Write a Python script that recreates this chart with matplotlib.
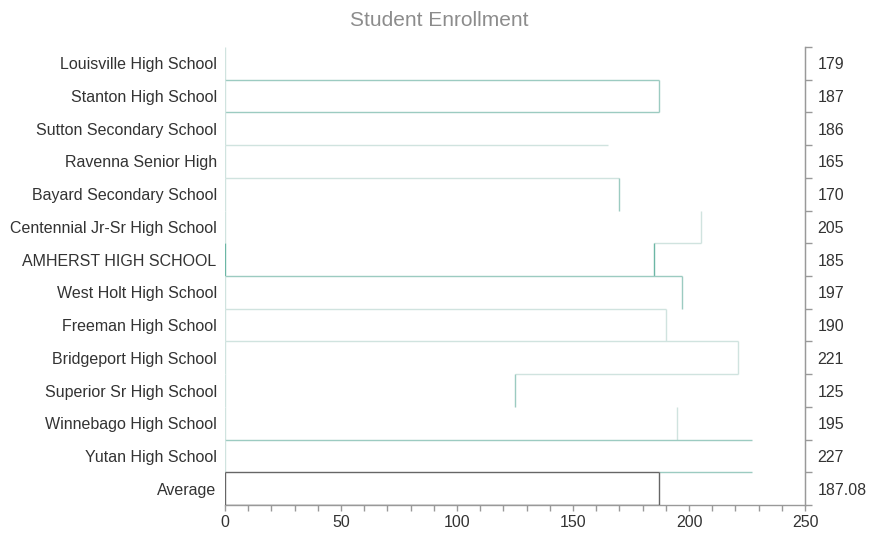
import numpy as np
import matplotlib.pyplot as plt

plt.rcParams["font.family"] = ["Liberation Sans", "DejaVu Sans"]

# Chart data (top row first)
schools = [
    "Louisville High School",
    "Stanton High School",
    "Sutton Secondary School",
    "Ravenna Senior High",
    "Bayard Secondary School",
    "Centennial Jr-Sr High School",
    "AMHERST HIGH SCHOOL",
    "West Holt High School",
    "Freeman High School",
    "Bridgeport High School",
    "Superior Sr High School",
    "Winnebago High School",
    "Yutan High School",
    "Average",
]
enrollment = [179, 187, 186, 165, 170, 205, 185, 197, 190, 221, 125, 195, 227, 187.08]
value_labels = ["179", "187", "186", "165", "170", "205", "185", "197", "190",
                "221", "125", "195", "227", "187.08"]

# Edge colours of each bar outline (None = not drawn)
TEAL = "#9ccbc1"
LIGHT = "#d0e3df"
DARK = "#6cb7a5"
GREY = "#666666"
top_edge = [None, TEAL, None, LIGHT, LIGHT, None, None, TEAL, LIGHT, LIGHT, None, None, TEAL, GREY]
right_edge = [None, TEAL, None, None, TEAL, LIGHT, DARK, TEAL, LIGHT, LIGHT, TEAL, LIGHT, None, GREY]
bottom_edge = [None, TEAL, None, None, None, LIGHT, None, None, None, LIGHT, None, None, TEAL, GREY]
bottom_tail_only = [False, False, False, False, False, True, False, False, False, True, False, False, True, False]
left_edge = [LIGHT] * 6 + [DARK] + [LIGHT] * 6 + [GREY]

rows = np.arange(len(schools))

fig = plt.figure(figsize=(8.69, 5.34), dpi=100)
ax = fig.add_axes([0.2589, 0.0543, 0.6675, 0.8577])

ax.barh(rows, enrollment, height=1.0, color="white", edgecolor="none", zorder=1)

# Draw the outline segments of each bar
for i, v in enumerate(enrollment):
    top, bot = i - 0.5, i + 0.5
    if top_edge[i]:
        ax.hlines(top, 0, v, color=top_edge[i], lw=1.0, zorder=3)
    if right_edge[i]:
        ax.vlines(v, top, bot, color=right_edge[i], lw=1.0, zorder=3)
    if bottom_edge[i]:
        start = enrollment[i + 1] if bottom_tail_only[i] else 0
        ax.hlines(bot, start, v, color=bottom_edge[i], lw=1.0, zorder=3)
    ax.vlines(0, top, bot, color=left_edge[i], lw=1.0, zorder=3)

ax.set_xlim(0, 250)
ax.set_ylim(len(schools) - 0.5, -0.5)

# Spines
for side in ["top", "left"]:
    ax.spines[side].set_visible(False)
for side in ["bottom", "right"]:
    ax.spines[side].set_color("#999999")
    ax.spines[side].set_linewidth(1.0)

# Bottom axis
ax.set_xticks(np.arange(0, 251, 50))
ax.set_xticks(np.arange(0, 251, 10), minor=True)
ax.tick_params(axis="x", which="both", direction="out", length=4, width=1,
               color="#999999", labelsize=11.5, labelcolor="#333333", pad=3)

# Left category labels
ax.set_yticks(rows, labels=schools)
ax.tick_params(axis="y", which="major", length=0, labelsize=11.5,
               labelcolor="#333333", pad=6)

# Right value labels with boundary ticks
ax2 = ax.twinx()
ax2.set_ylim(ax.get_ylim())
ax2.set_yticks(rows, labels=value_labels)
ax2.set_yticks(np.arange(-0.5, len(schools), 1.0), minor=True)
ax2.tick_params(axis="y", which="major", length=0, labelsize=11.5,
                labelcolor="#333333", pad=9)
ax2.tick_params(axis="y", which="minor", length=5, width=1, color="#999999")
for side in ["top", "left", "bottom"]:
    ax2.spines[side].set_visible(False)
ax2.spines["right"].set_color("#999999")

fig.text(0.505, 0.962, "Student Enrollment", ha="center", va="center",
         fontsize=15, color="#8c8c8c")

fig.savefig("out.png", dpi=100)
